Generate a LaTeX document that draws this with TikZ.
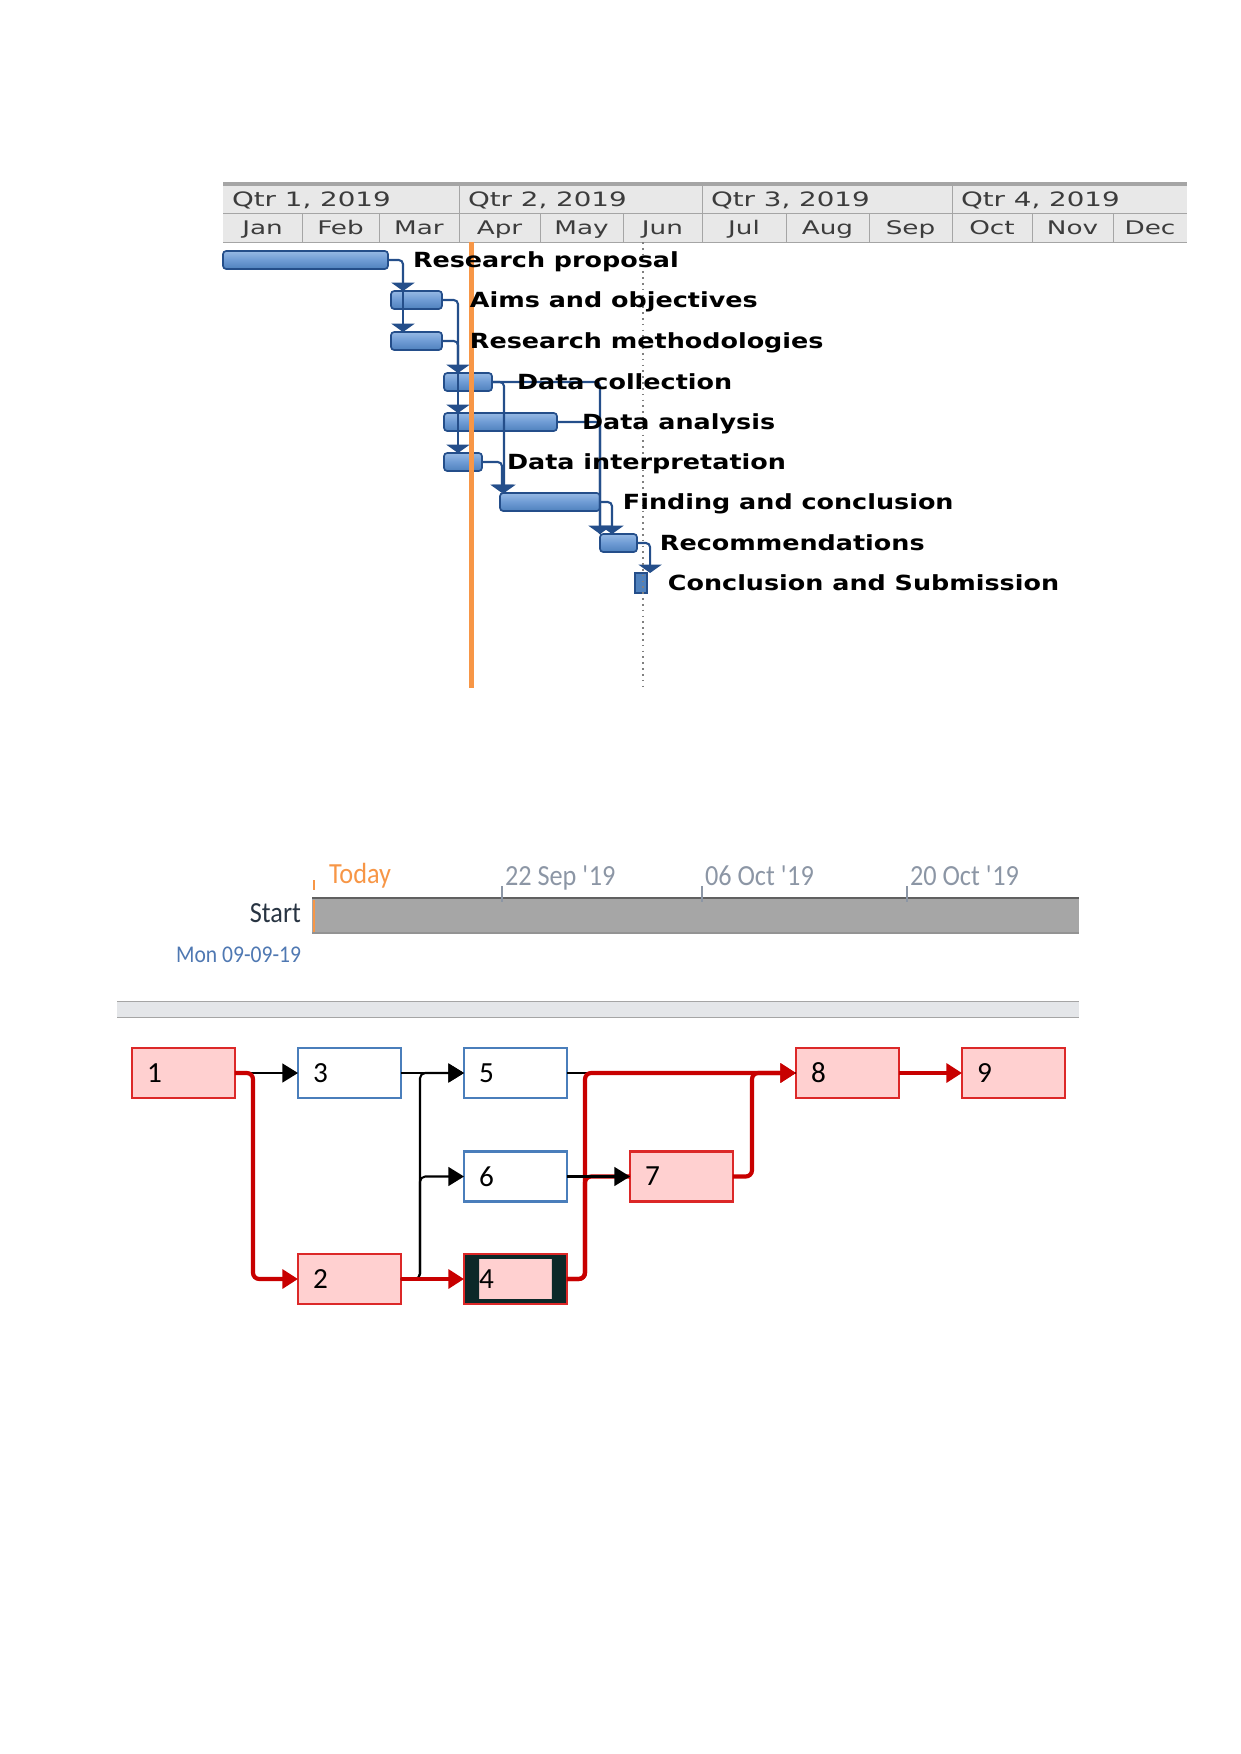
\documentclass[tikz,border=0pt]{standalone}
\usepackage{fontspec}
\usepackage{tikz}
\usetikzlibrary{arrows.meta, positioning, calc}
\newfontfamily\hdrfont[FakeStretch=1.4]{DejaVu Sans}
\newfontfamily\taskfont[FakeStretch=1.22]{DejaVu Sans Bold}
\newfontfamily\tlfont[FakeStretch=0.9]{Carlito}
\newfontfamily\netfont{Carlito}
\definecolor{hdrfill}{RGB}{232,232,232}
\definecolor{hdrline}{RGB}{165,165,165}
\definecolor{hdrtext}{RGB}{60,60,60}
\definecolor{barblue}{RGB}{79,129,189}
\definecolor{barmid}{RGB}{110,155,212}
\definecolor{barlight}{RGB}{150,185,228}
\definecolor{linkblue}{RGB}{36,78,138}
\definecolor{todayorange}{RGB}{247,150,70}
\definecolor{tltext}{RGB}{140,150,165}
\definecolor{tlbar}{RGB}{166,166,166}
\definecolor{startdark}{RGB}{40,52,66}
\definecolor{startblue}{RGB}{79,120,178}
\definecolor{sepfill}{RGB}{228,230,233}
\definecolor{critred}{RGB}{200,0,0}
\definecolor{critfill}{RGB}{255,208,208}
\definecolor{critline}{RGB}{220,40,40}
\definecolor{normline}{RGB}{74,126,187}
\definecolor{framefour}{RGB}{12,40,40}

\begin{document}
\begin{tikzpicture}[x=0.4797pt, y=-0.4797pt,
  every node/.style={inner sep=0pt, outer sep=0pt},
  gbar/.style={draw=linkblue, line width=0.8pt, rounded corners=1.5pt, top color=barlight, bottom color=barblue, middle color=barmid, minimum height=8.6pt, anchor=west},
  task/.style={font=\taskfont\fontsize{10}{12}\selectfont, text height=7.3pt, text depth=0pt, anchor=west},
  qtr/.style={font=\hdrfont\fontsize{9.5}{11}\selectfont, text=hdrtext, text height=6.9pt, text depth=0pt, anchor=west},
  mon/.style={font=\hdrfont\fontsize{9}{11}\selectfont, text=hdrtext, text height=6.6pt, text depth=0pt},
  glink/.style={linkblue, line width=1pt, rounded corners=2pt, -{Triangle[width=11pt,length=4pt]}},
  gjoin/.style={linkblue, line width=1pt, rounded corners=2pt},
  tl/.style={font=\tlfont\fontsize{14}{16}\selectfont, text=tltext, anchor=base west},
  nbox/.style={rectangle, minimum width=49.4pt, minimum height=24pt, line width=1pt, text width=35pt, align=left, font=\netfont\fontsize{14}{16}\selectfont},
  crit/.style={nbox, fill=critfill, draw=critline},
  norm/.style={nbox, fill=white, draw=normline},
  framed/.style={path picture={\fill[framefour, even odd rule] (path picture bounding box.north west) rectangle (path picture bounding box.south east) ($(path picture bounding box.north west)+(15,5)$) rectangle ($(path picture bounding box.south east)+(-15,-5)$);}},
  nlink/.style={line width=1pt, rounded corners=2.5pt, -{Triangle[length=7.5pt,width=9pt]}},
  clink/.style={critred, line width=2pt, rounded corners=3pt, -{Triangle[length=7.5pt,width=9pt]}},
  cline/.style={critred, line width=2pt, rounded corners=3pt}]
  \useasboundingbox (0,0) rectangle (1241,1754);

  \fill[hdrfill] (223,184) rectangle (1187,242);
  \draw[hdrline, line width=1.5pt] (223,184) -- (1187,184);
  \draw[hdrline] (223,213) -- (1187,213) (223,242) -- (1187,242);
  \foreach \x in {459,702,952} \draw[hdrline] (\x,184) -- (\x,242);
  \foreach \x in {302,379,540,623,786,869,1032,1113} \draw[hdrline] (\x,213) -- (\x,242);
  \foreach \i/\x in {1/223,2/459,3/702,4/952}
    \node[qtr] (q\i) at ({\x+9},199) {Qtr \i, 2019};
  \foreach \i/\a/\b/\m in {1/223/302/Jan,2/302/379/Feb,3/379/459/Mar,4/459/540/Apr,5/540/623/May,6/623/702/Jun,7/702/786/Jul,8/786/869/Aug,9/869/952/Sep,10/952/1032/Oct,11/1032/1113/Nov,12/1113/1187/Dec}
    \node[mon] (m\i) at ({(\a+\b)/2},228) {\m};

  \foreach \i/\s/\e/\y in {1/223/388/260,2/391/442/300,3/391/442/341,4/444/492/382,5/444/557/422,6/444/482/462,7/500/600/502,8/600/637/543}
    \node[gbar, minimum width={(\e-\s)*0.4797pt}] (g\i) at (\s,\y) {};
  \node[draw=linkblue, fill=barblue, line width=1.2pt, minimum width=5.8pt, minimum height=9.6pt, anchor=west] (g9) at (635,583) {};

  \draw[glink] (g1.east) -| ($(g2.north west)+(12,0)$);
  \draw[glink] ($(g2.north west)+(12,0)$) -- ($(g3.north west)+(12,0)$);
  \draw[glink] (g2.east) -| ($(g4.north west)+(14,0)$);
  \draw[gjoin] (g3.east) -| ($(g4.north west)+(14,0)$);
  \draw[glink] ($(g4.north west)+(14,0)$) -- ($(g5.north west)+(14,0)$);
  \draw[glink] ($(g5.north west)+(14,0)$) -- ($(g6.north west)+(14,0)$);
  \draw[glink] (g4.east) -| ($(g7.north west)+(4,0)$);
  \draw[glink] (g6.east) -| ($(g7.north west)+(2,0)$);
  \draw[glink] (g4.east) -| (g8.north west);
  \draw[gjoin] (g5.east) -| (g8.north west);
  \draw[glink] (g7.east) -| ($(g8.north west)+(12,0)$);
  \draw[glink] (g8.east) -| ($(g9.north east)+(3,0)$);

  \draw[todayorange, line width=2.4pt] (471,242) -- (471,688);
  \draw[gray, dotted, line width=0.8pt] (643,242) -- (643,688);

  \foreach \i/\d/\t in {1/12/Research proposal,2/13.4/Aims and objectives,3/13.4/Research methodologies,4/12/Data collection,5/12/Data analysis,6/12/Data interpretation,7/11/Finding and conclusion,8/11/Recommendations,9/10/Conclusion and Submission}
    \node[task, right=\d pt of g\i] (t\i) {\t};

  \node[fill=tlbar, minimum width=368pt, minimum height=16.8pt, anchor=north west] (bar) at (312,898) {};
  \draw[gray!75!black, line width=1.3pt] (bar.north west) -- (bar.north east);
  \draw[gray!85, line width=1pt] (bar.south west) -- (bar.south east);
  \draw[todayorange, line width=1pt] (314,880) -- (314,890) (314,900) -- (314,932);
  \node[tl, text=todayorange] (today) at (329,883) {Today};
  \foreach \i/\x/\d in {1/502/22 Sep \textquotesingle 19,2/702/06 Oct \textquotesingle 19,3/907/20 Oct \textquotesingle 19}{
    \draw[tltext, line width=0.8pt] (\x,886) -- (\x,902);
    \node[tl] (d\i) at ({\x+3},885) {\d};
  }
  \node[font=\tlfont\fontsize{14}{16}\selectfont, text=startdark, anchor=base east] (start) at (301,922) {Start};
  \node[font=\tlfont\fontsize{11.5}{13}\selectfont, text=startblue, anchor=base east] (sdate) at (301,962) {Mon 09-09-19};

  \fill[sepfill] (117,1001) rectangle (1079,1017);
  \draw[hdrline] (117,1001) -- (1079,1001) (117,1017) -- (1079,1017);

  \foreach \i/\x/\y/\s in {1/183.5/1073/crit,3/349.5/1073/norm,5/515.5/1073/norm,8/847.5/1073/crit,9/1013.5/1073/crit,6/515.5/1176.5/norm,7/681.5/1176.5/crit,2/349.5/1279/crit}
    \node[\s] (b\i) at (\x,\y) {\i};
  \node[crit, framed] (b4) at (515.5,1279) {4};

  \draw[nlink] (b1.east) -- (b3.west);
  \draw[nlink] (b3.east) -- (b5.west);
  \draw[nlink] (b2.east) -- ++(19,0) |- (b5.west);
  \draw[nlink] (b2.east) -- ++(19,0) |- (b6.west);
  \draw[line width=1pt] (b5.east) -- (b8.west);
  \draw[clink] (b1.east) -- ++(18,0) |- (b2.west);
  \draw[clink] (b2.east) -- (b4.west);
  \draw[clink] (b4.east) -- ++(18,0) |- (b8.west);
  \draw[cline] (b4.east) -- ++(18,0) |- (b7.west);
  \draw[nlink] (b6.east) -- (b7.west);
  \draw[clink] (b7.east) -- ++(19,0) |- (b8.west);
  \draw[clink] (b8.east) -- (b9.west);
\end{tikzpicture}
\end{document}
